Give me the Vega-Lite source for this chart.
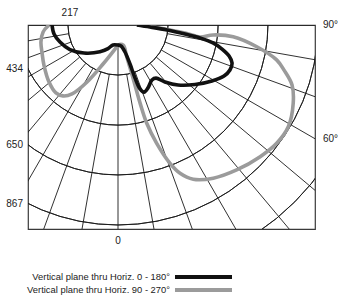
{
  "$schema": "https://vega.github.io/schema/vega-lite/v6.json",
  "width": 287,
  "height": 204,
  "autosize": "none",
  "padding": {"left": 28, "top": 25, "right": 24, "bottom": 71},
  "background": "white",
  "config": {
    "view": {"stroke": "#3a3a3a", "strokeWidth": 1.2},
    "font": "Liberation Sans Narrow, Arial Narrow, Liberation Sans, sans-serif"
  },
  "datasets": {
    "curves": [
      {"s": "Vertical plane thru Horiz. 90 - 270°", "i": 1, "a": -90, "v": 299},
      {"s": "Vertical plane thru Horiz. 90 - 270°", "i": 2, "a": -84.7, "v": 326},
      {"s": "Vertical plane thru Horiz. 90 - 270°", "i": 3, "a": -77.6, "v": 342},
      {"s": "Vertical plane thru Horiz. 90 - 270°", "i": 4, "a": -70.4, "v": 350},
      {"s": "Vertical plane thru Horiz. 90 - 270°", "i": 5, "a": -61.6, "v": 365},
      {"s": "Vertical plane thru Horiz. 90 - 270°", "i": 6, "a": -50.4, "v": 388},
      {"s": "Vertical plane thru Horiz. 90 - 270°", "i": 7, "a": -42.4, "v": 399},
      {"s": "Vertical plane thru Horiz. 90 - 270°", "i": 8, "a": -37.8, "v": 389},
      {"s": "Vertical plane thru Horiz. 90 - 270°", "i": 9, "a": -33.7, "v": 359},
      {"s": "Vertical plane thru Horiz. 90 - 270°", "i": 10, "a": -28.5, "v": 281},
      {"s": "Vertical plane thru Horiz. 90 - 270°", "i": 11, "a": -21, "v": 181},
      {"s": "Vertical plane thru Horiz. 90 - 270°", "i": 12, "a": -7.1, "v": 105},
      {"s": "Vertical plane thru Horiz. 90 - 270°", "i": 13, "a": 0, "v": 87},
      {"s": "Vertical plane thru Horiz. 90 - 270°", "i": 14, "a": 14.8, "v": 90},
      {"s": "Vertical plane thru Horiz. 90 - 270°", "i": 15, "a": 15.3, "v": 142},
      {"s": "Vertical plane thru Horiz. 90 - 270°", "i": 16, "a": 15.8, "v": 234},
      {"s": "Vertical plane thru Horiz. 90 - 270°", "i": 17, "a": 15.8, "v": 353},
      {"s": "Vertical plane thru Horiz. 90 - 270°", "i": 18, "a": 16.3, "v": 444},
      {"s": "Vertical plane thru Horiz. 90 - 270°", "i": 19, "a": 18.1, "v": 540},
      {"s": "Vertical plane thru Horiz. 90 - 270°", "i": 20, "a": 20.6, "v": 641},
      {"s": "Vertical plane thru Horiz. 90 - 270°", "i": 21, "a": 22.7, "v": 697},
      {"s": "Vertical plane thru Horiz. 90 - 270°", "i": 22, "a": 26, "v": 744},
      {"s": "Vertical plane thru Horiz. 90 - 270°", "i": 23, "a": 31.9, "v": 782},
      {"s": "Vertical plane thru Horiz. 90 - 270°", "i": 24, "a": 39.3, "v": 812},
      {"s": "Vertical plane thru Horiz. 90 - 270°", "i": 25, "a": 47.2, "v": 840},
      {"s": "Vertical plane thru Horiz. 90 - 270°", "i": 26, "a": 53.3, "v": 858},
      {"s": "Vertical plane thru Horiz. 90 - 270°", "i": 27, "a": 59.2, "v": 860},
      {"s": "Vertical plane thru Horiz. 90 - 270°", "i": 28, "a": 65.9, "v": 832},
      {"s": "Vertical plane thru Horiz. 90 - 270°", "i": 29, "a": 71, "v": 798},
      {"s": "Vertical plane thru Horiz. 90 - 270°", "i": 30, "a": 74.8, "v": 746},
      {"s": "Vertical plane thru Horiz. 90 - 270°", "i": 31, "a": 77.6, "v": 704},
      {"s": "Vertical plane thru Horiz. 90 - 270°", "i": 32, "a": 81.1, "v": 609},
      {"s": "Vertical plane thru Horiz. 90 - 270°", "i": 33, "a": 84.2, "v": 502},
      {"s": "Vertical plane thru Horiz. 90 - 270°", "i": 34, "a": 84, "v": 414},
      {"s": "Vertical plane thru Horiz. 90 - 270°", "i": 35, "a": 81.7, "v": 359},
      {"s": "Vertical plane thru Horiz. 90 - 270°", "i": 36, "a": 83.2, "v": 293},
      {"s": "Vertical plane thru Horiz. 90 - 270°", "i": 37, "a": 84.8, "v": 213},
      {"s": "Vertical plane thru Horiz. 90 - 270°", "i": 38, "a": 87.3, "v": 139},
      {"s": "Vertical plane thru Horiz. 90 - 270°", "i": 39, "a": 90, "v": 82},
      {"s": "Vertical plane thru Horiz. 0 - 180°", "i": 1, "a": -90, "v": 286},
      {"s": "Vertical plane thru Horiz. 0 - 180°", "i": 2, "a": -82, "v": 280},
      {"s": "Vertical plane thru Horiz. 0 - 180°", "i": 3, "a": -73.7, "v": 262},
      {"s": "Vertical plane thru Horiz. 0 - 180°", "i": 4, "a": -63, "v": 234},
      {"s": "Vertical plane thru Horiz. 0 - 180°", "i": 5, "a": -50.5, "v": 191},
      {"s": "Vertical plane thru Horiz. 0 - 180°", "i": 6, "a": -34, "v": 140},
      {"s": "Vertical plane thru Horiz. 0 - 180°", "i": 7, "a": -23, "v": 111},
      {"s": "Vertical plane thru Horiz. 0 - 180°", "i": 8, "a": -14, "v": 89},
      {"s": "Vertical plane thru Horiz. 0 - 180°", "i": 9, "a": 0, "v": 87},
      {"s": "Vertical plane thru Horiz. 0 - 180°", "i": 10, "a": 8.1, "v": 92},
      {"s": "Vertical plane thru Horiz. 0 - 180°", "i": 11, "a": 14.5, "v": 121},
      {"s": "Vertical plane thru Horiz. 0 - 180°", "i": 12, "a": 17.1, "v": 177},
      {"s": "Vertical plane thru Horiz. 0 - 180°", "i": 13, "a": 17.8, "v": 241},
      {"s": "Vertical plane thru Horiz. 0 - 180°", "i": 14, "a": 19, "v": 293},
      {"s": "Vertical plane thru Horiz. 0 - 180°", "i": 15, "a": 21.2, "v": 312},
      {"s": "Vertical plane thru Horiz. 0 - 180°", "i": 16, "a": 25.5, "v": 302},
      {"s": "Vertical plane thru Horiz. 0 - 180°", "i": 17, "a": 31.7, "v": 280},
      {"s": "Vertical plane thru Horiz. 0 - 180°", "i": 18, "a": 35.6, "v": 283},
      {"s": "Vertical plane thru Horiz. 0 - 180°", "i": 19, "a": 39.5, "v": 320},
      {"s": "Vertical plane thru Horiz. 0 - 180°", "i": 20, "a": 45, "v": 368},
      {"s": "Vertical plane thru Horiz. 0 - 180°", "i": 21, "a": 52.3, "v": 422},
      {"s": "Vertical plane thru Horiz. 0 - 180°", "i": 22, "a": 59.2, "v": 474},
      {"s": "Vertical plane thru Horiz. 0 - 180°", "i": 23, "a": 64.3, "v": 510},
      {"s": "Vertical plane thru Horiz. 0 - 180°", "i": 24, "a": 68.1, "v": 523},
      {"s": "Vertical plane thru Horiz. 0 - 180°", "i": 25, "a": 71.6, "v": 521},
      {"s": "Vertical plane thru Horiz. 0 - 180°", "i": 26, "a": 74.4, "v": 500},
      {"s": "Vertical plane thru Horiz. 0 - 180°", "i": 27, "a": 77, "v": 463},
      {"s": "Vertical plane thru Horiz. 0 - 180°", "i": 28, "a": 79.3, "v": 419},
      {"s": "Vertical plane thru Horiz. 0 - 180°", "i": 29, "a": 81, "v": 360},
      {"s": "Vertical plane thru Horiz. 0 - 180°", "i": 30, "a": 82.3, "v": 293},
      {"s": "Vertical plane thru Horiz. 0 - 180°", "i": 31, "a": 84.2, "v": 214},
      {"s": "Vertical plane thru Horiz. 0 - 180°", "i": 32, "a": 86.4, "v": 139},
      {"s": "Vertical plane thru Horiz. 0 - 180°", "i": 33, "a": 90, "v": 82}
    ]
  },
  "layer": [
    {
      "data": {"values": [{"r": 217}, {"r": 434}, {"r": 650}, {"r": 867}, {"r": 1084}]},
      "mark": {"type": "arc", "theta": 1.5708, "theta2": 4.7124, "filled": false, "stroke": "#1a1a1a", "strokeWidth": 0.9, "clip": true},
      "encoding": {
        "x": {"datum": 0, "type": "quantitative", "scale": {"domain": [-390.15, 853.99], "nice": false, "zero": false}, "axis": null},
        "y": {"datum": 0, "type": "quantitative", "scale": {"domain": [-884.34, 0], "nice": false, "zero": false}, "axis": null},
        "radius": {"field": "r", "type": "quantitative", "scale": {"type": "linear", "domain": [0, 867], "range": [0, 200], "zero": true}},
        "radius2": {"field": "r"}
      }
    },
    {
      "data": {"values": [{"a": -90}, {"a": -80}, {"a": -70}, {"a": -60}, {"a": -50}, {"a": -40}, {"a": -30}, {"a": -20}, {"a": -10}, {"a": 0}, {"a": 10}, {"a": 20}, {"a": 30}, {"a": 40}, {"a": 50}, {"a": 60}, {"a": 70}, {"a": 80}, {"a": 90}]},
      "transform": [
        {"calculate": "datum.a == 0 ? 87 : 217", "as": "r1"},
        {"calculate": "datum.r1 * sin(datum.a * PI / 180)", "as": "x1"},
        {"calculate": "-datum.r1 * cos(datum.a * PI / 180)", "as": "y1"},
        {"calculate": "1300 * sin(datum.a * PI / 180)", "as": "x2"},
        {"calculate": "-1300 * cos(datum.a * PI / 180)", "as": "y2"}
      ],
      "mark": {"type": "rule", "clip": true, "color": "#1a1a1a", "strokeWidth": 0.9},
      "encoding": {
        "x": {"field": "x1", "type": "quantitative", "scale": {"domain": [-390.15, 853.99], "nice": false, "zero": false}, "axis": null},
        "x2": {"field": "x2"},
        "y": {"field": "y1", "type": "quantitative", "scale": {"domain": [-884.34, 0], "nice": false, "zero": false}, "axis": null},
        "y2": {"field": "y2"}
      }
    },
    {
      "data": {"name": "curves"},
      "transform": [
        {"filter": "datum.s == 'Vertical plane thru Horiz. 90 - 270°'"},
        {"calculate": "datum.v * sin(datum.a * PI / 180)", "as": "x"},
        {"calculate": "-datum.v * cos(datum.a * PI / 180)", "as": "y"}
      ],
      "mark": {"type": "line", "clip": true, "strokeWidth": 3.6, "strokeJoin": "round", "interpolate": "catmull-rom"},
      "encoding": {
        "x": {"field": "x", "type": "quantitative", "axis": null},
        "y": {"field": "y", "type": "quantitative", "axis": null},
        "order": {"field": "i", "type": "quantitative"},
        "color": {
          "field": "s", "type": "nominal",
          "scale": {"domain": ["Vertical plane thru Horiz. 0 - 180°", "Vertical plane thru Horiz. 90 - 270°"], "range": ["#111111", "#9b9b9b"]},
          "legend": {"title": null, "orient": "none", "legendX": 170.5, "legendY": 247, "padding": 0, "symbolType": "M-10,0H10", "symbolSize": 32.5, "symbolStrokeWidth": 4, "labelAlign": "right", "labelOffset": -38.5, "labelFontSize": 9.4, "labelColor": "#222222", "labelLimit": 300, "rowPadding": -5}
        }
      }
    },
    {
      "data": {"name": "curves"},
      "transform": [
        {"filter": "datum.s == 'Vertical plane thru Horiz. 0 - 180°'"},
        {"calculate": "datum.v * sin(datum.a * PI / 180)", "as": "x"},
        {"calculate": "-datum.v * cos(datum.a * PI / 180)", "as": "y"}
      ],
      "mark": {"type": "line", "clip": true, "strokeWidth": 3.6, "strokeJoin": "round", "interpolate": "catmull-rom"},
      "encoding": {
        "x": {"field": "x", "type": "quantitative", "axis": null},
        "y": {"field": "y", "type": "quantitative", "axis": null},
        "order": {"field": "i", "type": "quantitative"},
        "color": {
          "field": "s", "type": "nominal",
          "scale": {"domain": ["Vertical plane thru Horiz. 0 - 180°", "Vertical plane thru Horiz. 90 - 270°"], "range": ["#111111", "#9b9b9b"]},
          "legend": {"title": null, "orient": "none", "legendX": 170.5, "legendY": 247, "padding": 0, "symbolType": "M-10,0H10", "symbolSize": 32.5, "symbolStrokeWidth": 4, "labelAlign": "right", "labelOffset": -38.5, "labelFontSize": 9.4, "labelColor": "#222222", "labelLimit": 300, "rowPadding": -5}
        }
      }
    },
    {
      "data": {"values": [{"t": "434", "v": 434}, {"t": "650", "v": 650}, {"t": "867", "v": 867}]},
      "transform": [{"calculate": "-sqrt(datum.v * datum.v - 390.15 * 390.15)", "as": "ly"}],
      "mark": {"type": "text", "align": "right", "baseline": "middle", "dx": -5, "fontSize": 10, "color": "#222222"},
      "encoding": {
        "x": {"datum": -390.15, "type": "quantitative"},
        "y": {"field": "ly", "type": "quantitative"},
        "text": {"field": "t"}
      }
    },
    {
      "data": {"values": [{"t": "217"}]},
      "mark": {"type": "text", "align": "center", "baseline": "middle", "dy": -12, "dx": 2, "fontSize": 10, "color": "#222222"},
      "encoding": {
        "x": {"datum": -217, "type": "quantitative"},
        "y": {"datum": 0, "type": "quantitative"},
        "text": {"field": "t"}
      }
    },
    {
      "data": {"values": [{"t": "0"}]},
      "mark": {"type": "text", "align": "center", "baseline": "middle", "dy": 12, "fontSize": 10, "color": "#222222"},
      "encoding": {
        "x": {"datum": 0, "type": "quantitative"},
        "y": {"datum": -884.34, "type": "quantitative"},
        "text": {"field": "t"}
      }
    },
    {
      "data": {"values": [{"t": "90°", "a": 90}, {"t": "60°", "a": 60}]},
      "transform": [{"calculate": "-853.99 * cos(datum.a * PI / 180) / sin(datum.a * PI / 180)", "as": "ly"}],
      "mark": {"type": "text", "align": "left", "baseline": "middle", "dx": 8, "fontSize": 10, "color": "#222222"},
      "encoding": {
        "x": {"datum": 853.99, "type": "quantitative"},
        "y": {"field": "ly", "type": "quantitative"},
        "text": {"field": "t"}
      }
    }
  ]
}
